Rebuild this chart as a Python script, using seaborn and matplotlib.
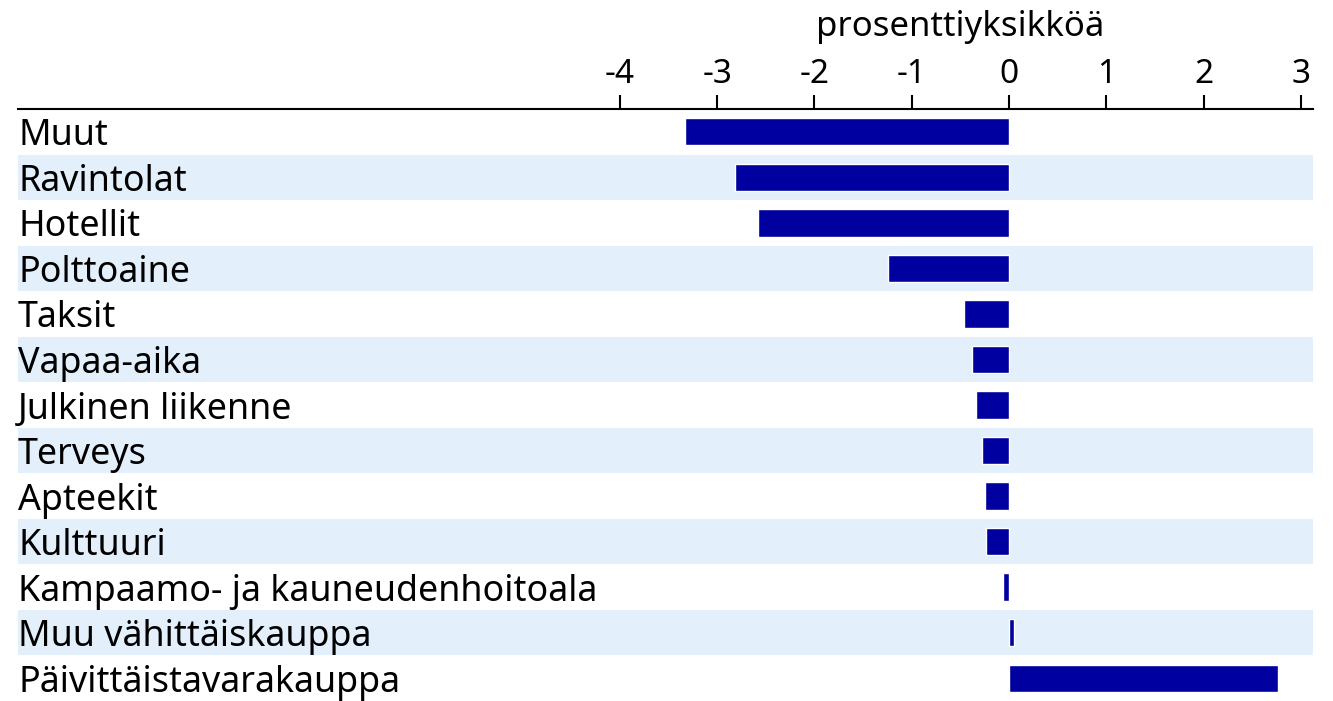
import pandas as pd
import matplotlib
matplotlib.use("Agg")
import matplotlib.pyplot as plt
import matplotlib.transforms as mtransforms
import seaborn as sns

categories = ["Muut", "Ravintolat", "Hotellit", "Polttoaine", "Taksit", "Vapaa-aika",
              "Julkinen liikenne", "Terveys", "Apteekit", "Kulttuuri",
              "Kampaamo- ja kauneudenhoitoala", "Muu vähittäiskauppa",
              "Päivittäistavarakauppa"]
values = [-3.33, -2.82, -2.58, -1.24, -0.46, -0.38, -0.34, -0.28, -0.25, -0.24,
          -0.065, 0.05, 2.76]
ticks = [-4, -3, -2, -1, 0, 1, 2, 3]
unit_label = "prosenttiyksikköä"

df = pd.DataFrame({"kategoria": categories, "muutos": values})

sns.set_style("white")
plt.rcParams["font.family"] = ["Noto Sans", "DejaVu Sans"]
plt.rcParams["text.color"] = "black"
plt.rcParams["xtick.color"] = "black"

fig = plt.figure(figsize=(13.33, 7.01), dpi=100)
ax = fig.add_axes([18 / 1333, 0.0, (1313 - 18) / 1333, 1 - 109 / 701])

# alternating background bands
for i in range(len(categories)):
    if i % 2 == 1:
        ax.axhspan(i - 0.5, i + 0.5, color="#e3f0fc", lw=0, zorder=0)

sns.barplot(data=df, x="muutos", y="kategoria", orient="h", color="#0000a0",
            saturation=1, width=0.6, ax=ax, zorder=2)

ax.set_xlim(-10.185, 3.124)
ax.set_ylim(len(categories) - 0.5, -0.5)
ax.set_xticks(ticks)
ax.set_xticklabels([str(t) for t in ticks])
ax.xaxis.tick_top()
ax.tick_params(axis="x", top=True, bottom=False, direction="out", length=10,
               width=1.5, pad=3, labelsize=24, color="black", labelcolor="black")
ax.set_yticks([])
ax.set_xlabel("")
ax.set_ylabel("")
for s in ["left", "right", "bottom"]:
    ax.spines[s].set_visible(False)
ax.spines["top"].set_linewidth(1.5)
ax.spines["top"].set_color("black")

trans = mtransforms.blended_transform_factory(ax.transAxes, ax.transData)
for i, name in enumerate(categories):
    ax.text(0.0, i + 0.1, name, transform=trans, ha="left", va="center",
            fontsize=25.8, color="black", zorder=3)

fig.text((621 + 1299) / 2 / 1333, 1 - 27 / 701, unit_label, ha="center",
         va="center", fontsize=25, color="black")

fig.savefig("out.png", dpi=100)
